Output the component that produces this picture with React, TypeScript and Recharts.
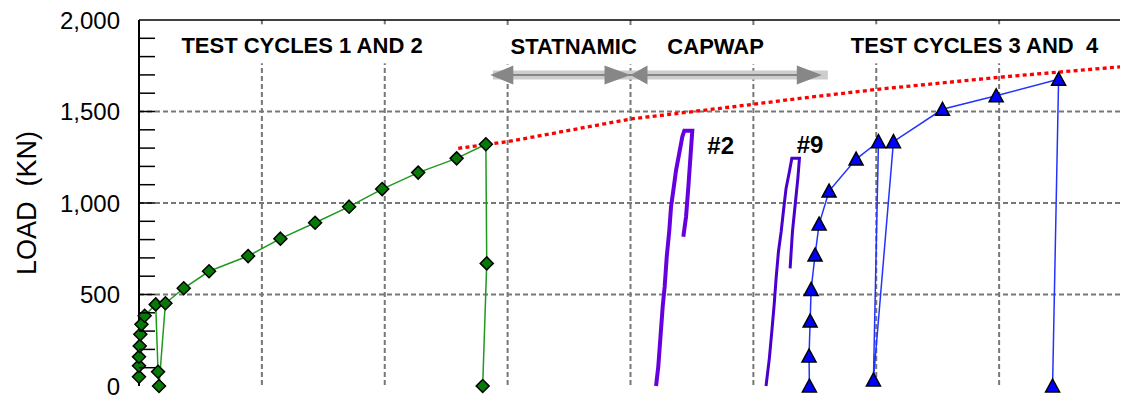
import React from 'react';
import {
  ComposedChart,
  Line,
  XAxis,
  YAxis,
  CartesianGrid,
  ReferenceLine,
  ReferenceDot,
} from 'recharts';

const FONT = '"Liberation Sans", Arial, Helvetica, sans-serif';

// static test cycles 1 and 2, in loading order
const cycles12 = [
  { x: 0.0, y: 51 },
  { x: 0.0, y: 111 },
  { x: 0.0, y: 160 },
  { x: 0.006, y: 219 },
  { x: 0.011, y: 283 },
  { x: 0.02, y: 337 },
  { x: 0.046, y: 384 },
  { x: 0.136, y: 446 },
  { x: 0.155, y: 78 },
  { x: 0.163, y: 0 },
  { x: 0.215, y: 452 },
  { x: 0.364, y: 534 },
  { x: 0.57, y: 627 },
  { x: 0.888, y: 710 },
  { x: 1.151, y: 805 },
  { x: 1.433, y: 892 },
  { x: 1.71, y: 980 },
  { x: 1.979, y: 1076 },
  { x: 2.272, y: 1166 },
  { x: 2.585, y: 1244 },
  { x: 2.823, y: 1321 },
  { x: 2.83, y: 670 },
  { x: 2.797, y: 0 },
];

// static test cycles 3 and 4
const cycles34 = [
  { x: 5.456, y: 0 },
  { x: 5.453, y: 164 },
  { x: 5.462, y: 355 },
  { x: 5.47, y: 528 },
  { x: 5.502, y: 716 },
  { x: 5.535, y: 885 },
  { x: 5.616, y: 1065 },
  { x: 5.836, y: 1240 },
  { x: 6.018, y: 1335 },
  { x: 5.977, y: 33 },
  { x: 6.14, y: 1335 },
  { x: 6.539, y: 1512 },
  { x: 6.976, y: 1586 },
  { x: 7.484, y: 1676 },
  { x: 7.435, y: 0 },
];

// statnamic shot #2
const shot2 = [
  { x: 4.208, y: 0 },
  { x: 4.226, y: 105 },
  { x: 4.246, y: 288 },
  { x: 4.262, y: 434 },
  { x: 4.278, y: 543 },
  { x: 4.295, y: 707 },
  { x: 4.316, y: 852 },
  { x: 4.33, y: 980 },
  { x: 4.349, y: 1071 },
  { x: 4.371, y: 1180 },
  { x: 4.397, y: 1272 },
  { x: 4.422, y: 1363 },
  { x: 4.438, y: 1395 },
  { x: 4.503, y: 1395 },
  { x: 4.49, y: 1272 },
  { x: 4.471, y: 1089 },
  { x: 4.452, y: 925 },
  { x: 4.43, y: 816 },
];

// statnamic shot #9
const shot9 = [
  { x: 5.103, y: 0 },
  { x: 5.13, y: 151 },
  { x: 5.15, y: 297 },
  { x: 5.169, y: 443 },
  { x: 5.185, y: 588 },
  { x: 5.204, y: 734 },
  { x: 5.226, y: 843 },
  { x: 5.244, y: 952 },
  { x: 5.266, y: 1080 },
  { x: 5.293, y: 1171 },
  { x: 5.313, y: 1244 },
  { x: 5.375, y: 1244 },
  { x: 5.362, y: 1135 },
  { x: 5.34, y: 989 },
  { x: 5.318, y: 843 },
  { x: 5.299, y: 643 },
];

// red dotted envelope
const envelope = [
  { x: 2.598, y: 1299 },
  { x: 3.0, y: 1335 },
  { x: 4.0, y: 1459 },
  { x: 4.837, y: 1526 },
  { x: 5.38, y: 1572 },
  { x: 6.007, y: 1621 },
  { x: 6.998, y: 1687 },
  { x: 8.0, y: 1745 },
];

const yTicks = [0, 100, 200, 300, 400, 500, 600, 700, 800, 900, 1000, 1100, 1200, 1300, 1400, 1500, 1600, 1700, 1800, 1900, 2000];
const yLabelTicks = [0, 500, 1000, 1500, 2000];
const xTicks = [0, 0.5, 1, 1.5, 2, 2.5, 3, 3.5, 4, 4.5, 5, 5.5, 6, 6.5, 7, 7.5, 8];
const gridX = [1, 2, 3, 4, 5, 6, 7];
const gridY = [500, 1000, 1500];

const headers = [
  { text: 'TEST CYCLES 1 AND 2', x: 0.345, y: 1818 },
  { text: 'STATNAMIC', x: 3.024, y: 1812 },
  { text: 'CAPWAP', x: 4.3, y: 1812 },
  { text: 'TEST CYCLES 3 AND\u00a0 4', x: 5.793, y: 1818 },
];
// white box behind each header: [left pad, width]
const headerBoxes = [
  [37, 296],
  [11, 145],
  [10, 115],
  [9, 268],
];

const shotLabels = [
  { text: '#2', x: 4.625, y: 1268 },
  { text: '#9', x: 5.353, y: 1275 },
];

const arrowY = 1699;
const arrowBand = [2.88, 5.606];
const arrowCore = [3.0, 5.4];
const arrowHeads = [
  { x: 2.859, dir: -1, len: 23 },
  { x: 4.0, dir: 1, len: 26 },
  { x: 4.0, dir: -1, len: 17 },
  { x: 5.557, dir: 1, len: 25 },
];

const Diamond = (props: any) => {
  const { cx, cy, index } = props;
  if (cx == null || cy == null) return <g key={index} />;
  const r = 6.5;
  return (
    <polygon
      key={index}
      points={`${cx},${cy - r} ${cx + r},${cy} ${cx},${cy + r} ${cx - r},${cy}`}
      fill="#067a06"
      stroke="#000"
      strokeWidth={1.5}
    />
  );
};

const Triangle = (props: any) => {
  const { cx, cy, index } = props;
  if (cx == null || cy == null) return <g key={index} />;
  return (
    <polygon
      key={index}
      points={`${cx},${cy - 7} ${cx + 7},${cy + 6} ${cx - 7},${cy + 6}`}
      fill="#0000ff"
      stroke="#000"
      strokeWidth={1.5}
    />
  );
};

const YTick = (props: any) => {
  const { x, y, payload } = props;
  const v = payload.value;
  const axisX = x + 19;
  return (
    <g>
      {v > 0 && v < 2000 && (
        <line x1={axisX} x2={axisX + 16} y1={y} y2={y} stroke="#000" strokeWidth={1.5} />
      )}
      {yLabelTicks.includes(v) && (
        <text x={x} y={y} dy="0.36em" textAnchor="end" fontSize={24} fontFamily={FONT} fill="#000">
          {v.toLocaleString('en-US')}
        </text>
      )}
    </g>
  );
};

const XTick = (props: any) => {
  const { x, y, payload } = props;
  if (payload.value <= 0 || payload.value >= 8) return <g />;
  return <line x1={x} x2={x} y1={y} y2={y - 4.5} stroke="#000" strokeWidth={1.5} />;
};

const headerShape = (text: string, box: number[]) => (props: any) => {
  const { cx, cy } = props;
  return (
    <g>
      <rect x={cx - box[0]} y={cy - 29} width={box[1]} height={39} fill="#fff" />
      <text x={cx} y={cy} fontSize={22} fontWeight="bold" fontFamily={FONT} fill="#000">
        {text}
      </text>
    </g>
  );
};

const shotShape = (text: string) => (props: any) => {
  const { cx, cy } = props;
  return (
    <text x={cx} y={cy} fontSize={24} fontWeight="bold" fontFamily={FONT} fill="#000">
      {text}
    </text>
  );
};

const headShape = (dir: number, len: number) => (props: any) => {
  const { cx, cy } = props;
  const bx = cx - dir * len;
  return <polygon points={`${cx},${cy} ${bx},${cy - 9.5} ${bx},${cy + 9.5}`} fill="#878787" />;
};

export default function App() {
  return (
    <ComposedChart width={1120} height={390} margin={{ top: 12, right: 6, bottom: 12, left: 0 }}>
      <CartesianGrid
        horizontalValues={gridY}
        verticalValues={gridX}
        stroke="#777"
        strokeWidth={2}
        strokeDasharray="5 3"
      />
      <XAxis
        dataKey="x"
        type="number"
        domain={[0, 8]}
        ticks={xTicks}
        interval={0}
        tick={<XTick />}
        tickLine={false}
        tickSize={0}
        tickMargin={0}
        height={0}
        axisLine={{ stroke: '#000', strokeWidth: 2 }}
      />
      <YAxis
        type="number"
        domain={[0, 2000]}
        ticks={yTicks}
        interval={0}
        tick={<YTick />}
        tickLine={false}
        tickSize={0}
        tickMargin={19}
        width={131}
        axisLine={{ stroke: '#000', strokeWidth: 2 }}
        label={{
          value: 'LOAD\u00a0 (KN)',
          angle: -90,
          position: 'insideLeft',
          offset: 18,
          style: { textAnchor: 'middle', fontSize: 27, fontFamily: FONT, fill: '#000' },
        }}
      />
      <ReferenceLine y={2000} stroke="#000" strokeWidth={1.5} />
      <ReferenceLine x={8} stroke="#000" strokeWidth={1.5} />

      <ReferenceLine
        segment={[{ x: arrowBand[0], y: arrowY }, { x: arrowBand[1], y: arrowY }]}
        stroke="#cdcdcd"
        strokeWidth={9}
      />
      <ReferenceLine
        segment={[{ x: arrowCore[0], y: arrowY }, { x: arrowCore[1], y: arrowY }]}
        stroke="#858585"
        strokeWidth={2}
      />
      {arrowHeads.map((h, i) => (
        <ReferenceDot key={`h${i}`} x={h.x} y={arrowY} r={1} shape={headShape(h.dir, h.len)} />
      ))}

      {headers.map((h, i) => (
        <ReferenceDot key={`t${i}`} x={h.x} y={h.y} r={1} shape={headerShape(h.text, headerBoxes[i])} />
      ))}
      {shotLabels.map((h, i) => (
        <ReferenceDot key={`s${i}`} x={h.x} y={h.y} r={1} shape={shotShape(h.text)} />
      ))}

      <Line
        data={envelope}
        dataKey="y"
        type="linear"
        stroke="#ff0000"
        strokeWidth={3.3}
        strokeDasharray="4 3.3"
        dot={false}
        isAnimationActive={false}
      />
      <Line data={shot2} dataKey="y" type="linear" stroke="#6600e0" strokeWidth={4} dot={false} isAnimationActive={false} />
      <Line data={shot9} dataKey="y" type="linear" stroke="#4a00cc" strokeWidth={3} dot={false} isAnimationActive={false} />
      <Line
        data={cycles12}
        dataKey="y"
        type="linear"
        stroke="#1f9a1f"
        strokeWidth={1.5}
        dot={Diamond}
        isAnimationActive={false}
      />
      <Line
        data={cycles34}
        dataKey="y"
        type="linear"
        stroke="#2233ff"
        strokeWidth={1.5}
        dot={Triangle}
        isAnimationActive={false}
      />
    </ComposedChart>
  );
}
